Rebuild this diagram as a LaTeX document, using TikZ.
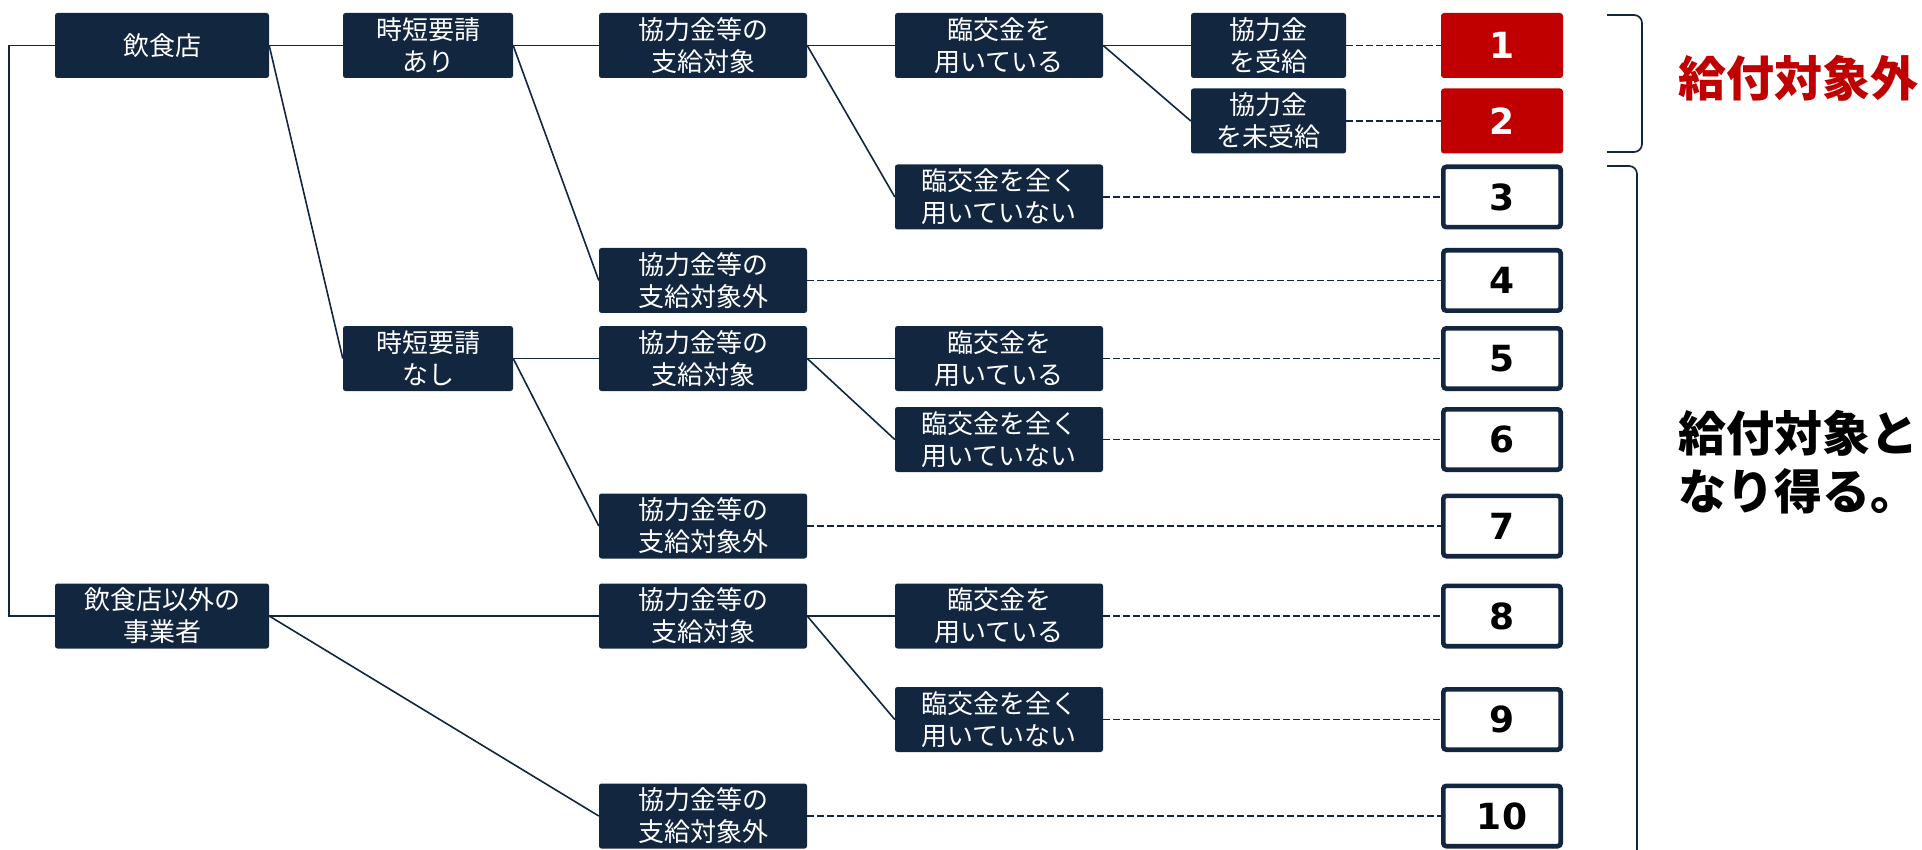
\documentclass[tikz,border=0pt]{standalone}
\usepackage{fontspec}
\newfontfamily\jp{Noto Sans CJK JP}
\newfontfamily\numfont{DejaVu Sans}
\usetikzlibrary{calc}
\definecolor{navy}{RGB}{18,38,64}
\definecolor{dred}{RGB}{192,0,0}
\begin{document}
\begin{tikzpicture}[x=1pt,y=-1pt,
  box/.style={fill=navy, rounded corners=2.5pt, text=white, align=center, inner sep=0pt,
    minimum height=65pt, font=\jp\fontsize{26}{32}\selectfont},
  colA/.style={box, minimum width=214pt},
  colB/.style={box, minimum width=170pt},
  colC/.style={box, minimum width=208pt},
  colD/.style={box, minimum width=208pt},
  colE/.style={box, minimum width=155pt},
  numbox/.style={draw=navy, line width=4.7pt, fill=white, rounded corners=3pt,
    minimum width=117.3pt, minimum height=60.3pt, inner sep=0pt,
    font=\numfont\bfseries\fontsize{36}{40}\selectfont},
  redbox/.style={fill=dred, rounded corners=3pt, minimum width=122pt, minimum height=65pt,
    inner sep=0pt, text=white, font=\numfont\bfseries\fontsize{36}{40}\selectfont},
  link/.style={draw=navy, line width=1.6pt},
  dlink/.style={draw=navy, line width=1.8pt, dash pattern=on 6.5pt off 3.5pt},
  bracket/.style={draw=navy, line width=1.7pt, rounded corners=8pt},
  bigtext/.style={anchor=west, inner sep=0pt, align=left,
    font=\jp\bfseries\fontsize{48}{58}\selectfont}
]
\useasboundingbox (0,0) rectangle (1922,850);

% column 0
\node[colA] (a1) at (162,45.5) {飲食店};
\node[colA] (a8) at (162,616) {飲食店以外の\\事業者};
% column 1
\node[colB] (b1) at (428,45.5) {時短要請\\あり};
\node[colB] (b5) at (428,358.5) {時短要請\\なし};
% column 2
\node[colC] (c1) at (703,45.5) {協力金等の\\支給対象};
\node[colC] (c4) at (703,280.5) {協力金等の\\支給対象外};
\node[colC] (c5) at (703,358.5) {協力金等の\\支給対象};
\node[colC] (c7) at (703,526) {協力金等の\\支給対象外};
\node[colC] (c8) at (703,616) {協力金等の\\支給対象};
\node[colC] (c10) at (703,816) {協力金等の\\支給対象外};
% column 3
\node[colD] (d1) at (999,45.5) {臨交金を\\用いている};
\node[colD] (d3) at (999,197) {臨交金を全く\\用いていない};
\node[colD] (d5) at (999,358.5) {臨交金を\\用いている};
\node[colD] (d6) at (999,439.5) {臨交金を全く\\用いていない};
\node[colD] (d8) at (999,616) {臨交金を\\用いている};
\node[colD] (d9) at (999,719.5) {臨交金を全く\\用いていない};
% column 4
\node[colE] (e1) at (1268.5,45.5) {協力金\\を受給};
\node[colE] (e2) at (1268.5,121) {協力金\\を未受給};
% number boxes
\node[redbox] (k1) at (1502,45.5) {1};
\node[redbox] (k2) at (1502,121) {2};
\node[numbox] (k3) at (1502,197) {3};
\node[numbox] (k4) at (1502,280.5) {4};
\node[numbox] (k5) at (1502,358.5) {5};
\node[numbox] (k6) at (1502,439.5) {6};
\node[numbox] (k7) at (1502,526) {7};
\node[numbox] (k8) at (1502,616) {8};
\node[numbox] (k9) at (1502,719.5) {9};
\node[numbox] (k10) at (1502,816) {10};

% root connector
\coordinate (root) at (9,330);
\draw[link] (a1.west) -| (root) |- (a8.west);

% solid connectors
\draw[link] (a1.east) -- (b1.west);
\draw[link] (a1.east) -- (b5.west);
\draw[link] (b1.east) -- (c1.west);
\draw[link] (b1.east) -- (c4.west);
\draw[link] (c1.east) -- (d1.west);
\draw[link] (c1.east) -- (d3.west);
\draw[link] (d1.east) -- (e1.west);
\draw[link] (d1.east) -- (e2.west);
\draw[link] (b5.east) -- (c5.west);
\draw[link] (b5.east) -- (c7.west);
\draw[link] (c5.east) -- (d5.west);
\draw[link] (c5.east) -- (d6.west);
\draw[link] (a8.east) -- (c8.west);
\draw[link] (a8.east) -- (c10.west);
\draw[link] (c8.east) -- (d8.west);
\draw[link] (c8.east) -- (d9.west);

% dashed connectors
\draw[dlink] (e1.east) -- (k1.west);
\draw[dlink] (e2.east) -- (k2.west);
\draw[dlink] (d3.east) -- (k3.west);
\draw[dlink] (c4.east) -- (k4.west);
\draw[dlink] (d5.east) -- (k5.west);
\draw[dlink] (d6.east) -- (k6.west);
\draw[dlink] (c7.east) -- (k7.west);
\draw[dlink] (d8.east) -- (k8.west);
\draw[dlink] (d9.east) -- (k9.west);
\draw[dlink] (c10.east) -- (k10.west);

% brackets
\draw[bracket] (1607,15) -| (1642,152) -- (1607,152);
\draw[bracket] (1607,166) -| (1637,870);

% labels
\node[bigtext, text=dred] (t1) at (1678,78) {給付対象外};
\node[bigtext, text=black] (t2) at (1678,462.5) {給付対象と\\なり得る。};
\end{tikzpicture}
\end{document}
